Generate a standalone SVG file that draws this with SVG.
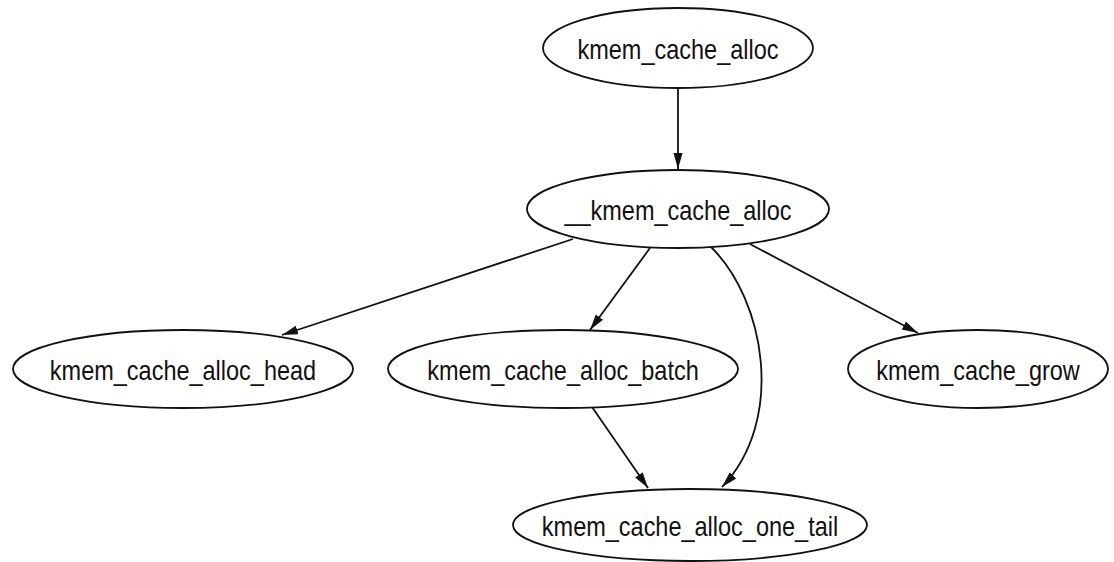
<svg xmlns="http://www.w3.org/2000/svg" width="1114" height="562" viewBox="0 0 1114 562">
  <style>
    .node ellipse { fill: #ffffff; stroke: #111111; stroke-width: 1.8; }
    .node text { font-family: "Liberation Sans", Arial, sans-serif; font-size: 23.5px; fill: #111111; text-anchor: middle; }
    .edges path { fill: none; stroke: #111111; stroke-width: 1.8; marker-end: url(#arrow); }
  </style>
  <defs>
    <marker id="arrow" markerUnits="userSpaceOnUse" markerWidth="18" markerHeight="12" refX="16" refY="4.5" orient="auto">
      <path d="M0,0 L16,4.5 L0,9 z" fill="#111111"/>
    </marker>
  </defs>
  <rect width="1114" height="562" fill="#ffffff"/>

  <!-- call edges -->
  <g class="edges">
    <path d="M678,88 L678,169"/>
    <path d="M573,239 L282,335"/>
    <path d="M650,248 L590,330"/>
    <path d="M711,247 C765,300 786,420 722,487"/>
    <path d="M750,244 L918,333"/>
    <path d="M592,407 L648,488"/>
  </g>

  <g id="kmem_cache_alloc" class="node">
    <ellipse cx="678" cy="48" rx="135" ry="40"/>
    <text transform="translate(678,59) scale(1,1.2)">kmem_cache_alloc</text>
  </g>
  <g id="__kmem_cache_alloc" class="node">
    <ellipse cx="678" cy="209" rx="151" ry="39"/>
    <text transform="translate(678,220) scale(1,1.2)">__kmem_cache_alloc</text>
  </g>
  <g id="kmem_cache_alloc_head" class="node">
    <ellipse cx="183" cy="369" rx="170" ry="39"/>
    <text transform="translate(183,380) scale(1,1.2)">kmem_cache_alloc_head</text>
  </g>
  <g id="kmem_cache_alloc_batch" class="node">
    <ellipse cx="563" cy="369" rx="175" ry="39"/>
    <text transform="translate(563,380) scale(1,1.2)">kmem_cache_alloc_batch</text>
  </g>
  <g id="kmem_cache_grow" class="node">
    <ellipse cx="978" cy="369" rx="130" ry="39"/>
    <text transform="translate(978,380) scale(1,1.2)">kmem_cache_grow</text>
  </g>
  <g id="kmem_cache_alloc_one_tail" class="node">
    <ellipse cx="690" cy="525" rx="177" ry="36"/>
    <text transform="translate(690,536) scale(1,1.2)">kmem_cache_alloc_one_tail</text>
  </g>
</svg>
